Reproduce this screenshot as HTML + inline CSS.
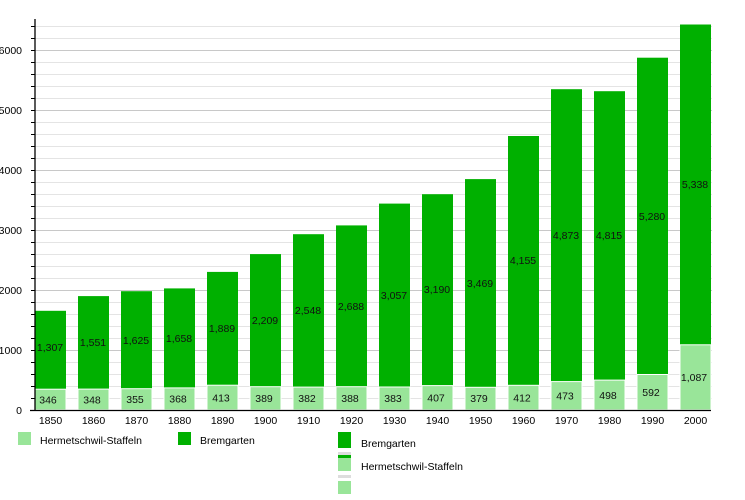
<!DOCTYPE html>
<html><head><meta charset="utf-8"><style>
html,body{margin:0;padding:0;background:#fff;}
svg{display:block;font-family:"Liberation Sans",sans-serif;}
</style></head><body>
<svg width="745" height="500" viewBox="0 0 745 500" xmlns="http://www.w3.org/2000/svg">
<g stroke="#e4e4e4" stroke-width="1">
<line x1="35" x2="712" y1="398.5" y2="398.5"/><line x1="35" x2="712" y1="386.5" y2="386.5"/><line x1="35" x2="712" y1="374.5" y2="374.5"/><line x1="35" x2="712" y1="362.5" y2="362.5"/>
<line x1="35" x2="712" y1="338.5" y2="338.5"/><line x1="35" x2="712" y1="326.5" y2="326.5"/><line x1="35" x2="712" y1="314.5" y2="314.5"/><line x1="35" x2="712" y1="302.5" y2="302.5"/>
<line x1="35" x2="712" y1="278.5" y2="278.5"/><line x1="35" x2="712" y1="266.5" y2="266.5"/><line x1="35" x2="712" y1="254.5" y2="254.5"/><line x1="35" x2="712" y1="242.5" y2="242.5"/>
<line x1="35" x2="712" y1="218.5" y2="218.5"/><line x1="35" x2="712" y1="206.5" y2="206.5"/><line x1="35" x2="712" y1="194.5" y2="194.5"/><line x1="35" x2="712" y1="182.5" y2="182.5"/>
<line x1="35" x2="712" y1="158.5" y2="158.5"/><line x1="35" x2="712" y1="146.5" y2="146.5"/><line x1="35" x2="712" y1="134.5" y2="134.5"/><line x1="35" x2="712" y1="122.5" y2="122.5"/>
<line x1="35" x2="712" y1="98.5" y2="98.5"/><line x1="35" x2="712" y1="86.5" y2="86.5"/><line x1="35" x2="712" y1="74.5" y2="74.5"/><line x1="35" x2="712" y1="62.5" y2="62.5"/>
<line x1="35" x2="712" y1="38.5" y2="38.5"/><line x1="35" x2="712" y1="26.5" y2="26.5"/>
</g>
<g stroke="#c8c8c8" stroke-width="1">
<line x1="35" x2="712" y1="350.5" y2="350.5"/><line x1="35" x2="712" y1="290.5" y2="290.5"/><line x1="35" x2="712" y1="230.5" y2="230.5"/><line x1="35" x2="712" y1="170.5" y2="170.5"/><line x1="35" x2="712" y1="110.5" y2="110.5"/><line x1="35" x2="712" y1="50.5" y2="50.5"/>
</g>
<g fill="#00b000">
<rect x="35" y="310.8" width="31" height="78.4"/><rect x="78" y="296.1" width="31" height="93"/><rect x="121" y="291.2" width="31" height="97.5"/><rect x="164" y="288.4" width="31" height="99.5"/>
<rect x="207" y="271.9" width="31" height="113.3"/><rect x="250" y="254.1" width="31" height="132.6"/><rect x="293" y="234.2" width="31" height="152.9"/><rect x="336" y="225.4" width="31" height="161.3"/>
<rect x="379" y="203.6" width="31" height="183.4"/><rect x="422" y="194.2" width="31" height="191.4"/><rect x="465" y="179.1" width="31" height="208.2"/><rect x="508" y="136" width="31" height="249.3"/>
<rect x="551" y="89.2" width="31" height="292.4"/><rect x="594" y="91.2" width="31" height="288.9"/><rect x="637" y="57.7" width="31" height="316.8"/><rect x="680" y="24.5" width="31" height="320.3"/>
</g>
<g fill="#99e599" stroke="#fff" stroke-width="1">
<rect x="35" y="389.2" width="31" height="20.8"/><rect x="78" y="389.1" width="31" height="20.9"/><rect x="121" y="388.7" width="31" height="21.3"/><rect x="164" y="387.9" width="31" height="22.1"/>
<rect x="207" y="385.2" width="31" height="24.8"/><rect x="250" y="386.7" width="31" height="23.3"/><rect x="293" y="387.1" width="31" height="22.9"/><rect x="336" y="386.7" width="31" height="23.3"/>
<rect x="379" y="387" width="31" height="23"/><rect x="422" y="385.6" width="31" height="24.4"/><rect x="465" y="387.3" width="31" height="22.7"/><rect x="508" y="385.3" width="31" height="24.7"/>
<rect x="551" y="381.6" width="31" height="28.4"/><rect x="594" y="380.1" width="31" height="29.9"/><rect x="637" y="374.5" width="31" height="35.5"/><rect x="680" y="344.8" width="31" height="65.2"/>
</g>
<g stroke="#000" stroke-width="1.3">
<line x1="35" y1="19" x2="35" y2="411"/><line x1="30" y1="410.5" x2="711" y2="410.5"/>
</g>
<g stroke="#000" stroke-width="1">
<line x1="31" x2="35" y1="398.5" y2="398.5"/><line x1="31" x2="35" y1="386.5" y2="386.5"/><line x1="31" x2="35" y1="374.5" y2="374.5"/><line x1="31" x2="35" y1="362.5" y2="362.5"/><line x1="31" x2="35" y1="350.5" y2="350.5"/>
<line x1="31" x2="35" y1="338.5" y2="338.5"/><line x1="31" x2="35" y1="326.5" y2="326.5"/><line x1="31" x2="35" y1="314.5" y2="314.5"/><line x1="31" x2="35" y1="302.5" y2="302.5"/><line x1="31" x2="35" y1="290.5" y2="290.5"/>
<line x1="31" x2="35" y1="278.5" y2="278.5"/><line x1="31" x2="35" y1="266.5" y2="266.5"/><line x1="31" x2="35" y1="254.5" y2="254.5"/><line x1="31" x2="35" y1="242.5" y2="242.5"/><line x1="31" x2="35" y1="230.5" y2="230.5"/>
<line x1="31" x2="35" y1="218.5" y2="218.5"/><line x1="31" x2="35" y1="206.5" y2="206.5"/><line x1="31" x2="35" y1="194.5" y2="194.5"/><line x1="31" x2="35" y1="182.5" y2="182.5"/><line x1="31" x2="35" y1="170.5" y2="170.5"/>
<line x1="31" x2="35" y1="158.5" y2="158.5"/><line x1="31" x2="35" y1="146.5" y2="146.5"/><line x1="31" x2="35" y1="134.5" y2="134.5"/><line x1="31" x2="35" y1="122.5" y2="122.5"/><line x1="31" x2="35" y1="110.5" y2="110.5"/>
<line x1="31" x2="35" y1="98.5" y2="98.5"/><line x1="31" x2="35" y1="86.5" y2="86.5"/><line x1="31" x2="35" y1="74.5" y2="74.5"/><line x1="31" x2="35" y1="62.5" y2="62.5"/><line x1="31" x2="35" y1="50.5" y2="50.5"/>
<line x1="31" x2="35" y1="38.5" y2="38.5"/><line x1="31" x2="35" y1="26.5" y2="26.5"/>
</g>
<g font-size="10.5" fill="#000" text-anchor="end">
<text x="22" y="414">0</text><text x="22" y="354">1000</text><text x="22" y="294">2000</text><text x="22" y="234">3000</text><text x="22" y="174">4000</text><text x="22" y="114">5000</text><text x="22" y="54">6000</text>
</g>
<g font-size="10.5" fill="#000" text-anchor="middle">
<text x="50.5" y="424">1850</text><text x="93.5" y="424">1860</text><text x="136.5" y="424">1870</text><text x="179.5" y="424">1880</text><text x="222.5" y="424">1890</text><text x="265.5" y="424">1900</text><text x="308.5" y="424">1910</text><text x="351.5" y="424">1920</text>
<text x="394.5" y="424">1930</text><text x="437.5" y="424">1940</text><text x="480.5" y="424">1950</text><text x="523.5" y="424">1960</text><text x="566.5" y="424">1970</text><text x="609.5" y="424">1980</text><text x="652.5" y="424">1990</text><text x="695.5" y="424">2000</text>
</g>
<g font-size="10.5" fill="#111" text-anchor="middle">
<text x="48" y="403.5">346</text><text x="92" y="403.5">348</text><text x="135" y="403">355</text><text x="178" y="402.5">368</text><text x="221" y="401.5">413</text><text x="264" y="402">389</text><text x="307" y="402">382</text><text x="350" y="402">388</text>
<text x="393" y="402">383</text><text x="436" y="401.5">407</text><text x="479" y="402">379</text><text x="522" y="401.5">412</text><text x="565" y="399.5">473</text><text x="608" y="399">498</text><text x="651" y="396">592</text><text x="694" y="381">1,087</text>
<text x="50" y="351">1,307</text><text x="93" y="346">1,551</text><text x="136" y="344">1,625</text><text x="179" y="342">1,658</text><text x="222" y="332">1,889</text><text x="265" y="324">2,209</text><text x="308" y="314">2,548</text><text x="351" y="310">2,688</text>
<text x="394" y="299">3,057</text><text x="437" y="293">3,190</text><text x="480" y="287">3,469</text><text x="523" y="264">4,155</text><text x="566" y="239">4,873</text><text x="609" y="239">4,815</text><text x="652" y="220">5,280</text><text x="695" y="188">5,338</text>
</g>
<rect x="18" y="432" width="13" height="13" fill="#99e599"/>
<text x="40" y="444" font-size="10.5">Hermetschwil-Staffeln</text>
<rect x="178" y="432" width="13" height="13" fill="#00b000"/>
<text x="200" y="444" font-size="10.5">Bremgarten</text>
<rect x="338" y="432" width="13" height="16" fill="#00b000"/>
<rect x="338" y="452" width="13" height="3" fill="#ddd"/>
<rect x="338" y="455" width="13" height="3" fill="#00b000"/>
<rect x="338" y="458" width="13" height="13" fill="#99e599"/>
<rect x="338" y="475" width="13" height="3" fill="#ddd"/>
<rect x="338" y="481" width="13" height="13" fill="#99e599"/>
<text x="361" y="447" font-size="10.5">Bremgarten</text>
<text x="361" y="470" font-size="10.5">Hermetschwil-Staffeln</text>
</svg>
</body></html>
